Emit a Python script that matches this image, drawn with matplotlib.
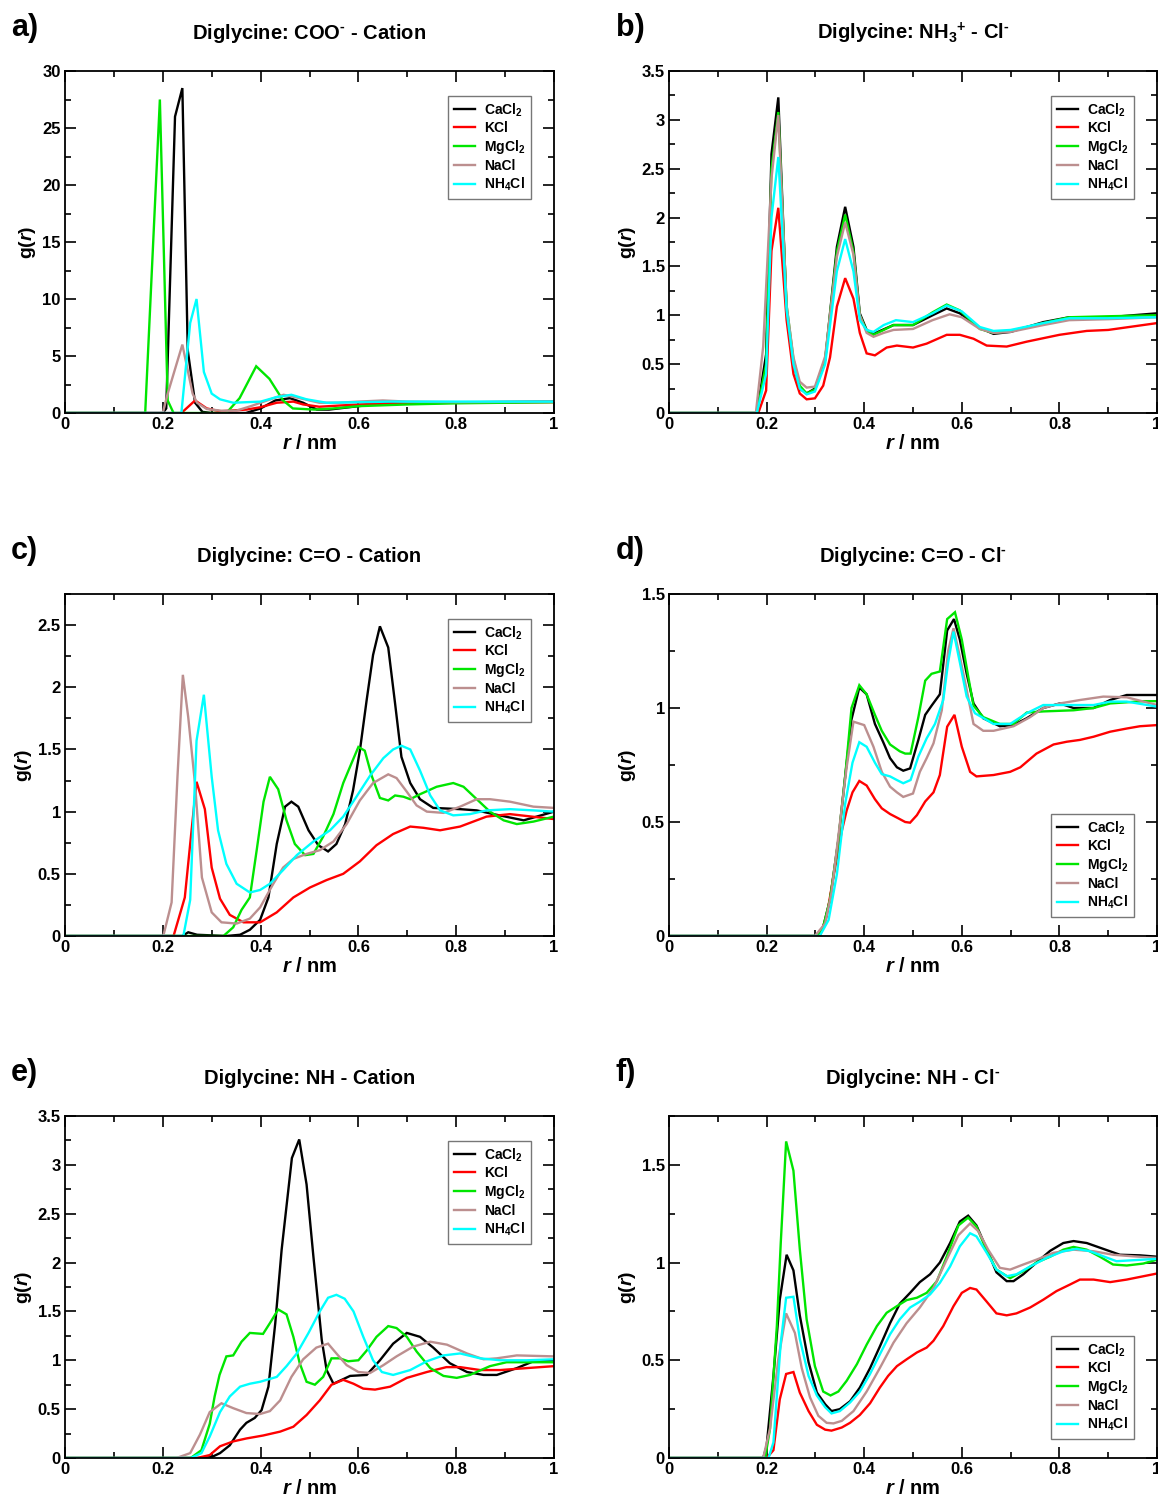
import matplotlib
matplotlib.use('Agg')
import matplotlib.pyplot as plt
from matplotlib.ticker import MultipleLocator, FuncFormatter

plt.rcParams['font.family'] = ['Liberation Sans', 'DejaVu Sans']
plt.rcParams['font.weight'] = 'bold'
plt.rcParams['mathtext.fontset'] = 'custom'
plt.rcParams['mathtext.rm'] = 'Liberation Sans:bold'
plt.rcParams['mathtext.bf'] = 'Liberation Sans:bold'
plt.rcParams['mathtext.it'] = 'Liberation Sans:bold:italic'
plt.rcParams['mathtext.default'] = 'bf'

SALTS = ['CaCl$_2$', 'KCl', 'MgCl$_2$', 'NaCl', 'NH$_4$Cl']
COLORS = ['black', '#ff0000', '#00e600', '#bc8f8f', '#00ffff']

# ---------------- panel a: COO- - cation ----------------
A_CACL2 = [(0, 0), (0.200, 0), (0.207, 0.4), (0.225, 26.0), (0.240, 28.5), (0.251, 5.5), (0.266, 0.9),
           (0.281, 0.1), (0.30, 0), (0.37, 0), (0.40, 0.4), (0.43, 1.1), (0.46, 1.3), (0.487, 0.9),
           (0.515, 0.3), (0.54, 0.3), (0.60, 0.6), (0.66, 0.9), (0.75, 0.9), (0.85, 0.95), (1.0, 1.0)]
A_KCL = [(0, 0), (0.238, 0), (0.266, 1.1), (0.29, 0.4), (0.317, 0.15), (0.371, 0.3), (0.399, 0.5),
         (0.433, 0.9), (0.467, 1.0), (0.487, 0.75), (0.52, 0.55), (0.60, 0.75), (0.67, 0.85),
         (0.80, 0.9), (1.0, 0.95)]
A_MGCL2 = [(0, 0), (0.164, 0), (0.194, 27.5), (0.21, 1.1), (0.222, 0), (0.33, 0), (0.357, 1.3),
           (0.391, 4.1), (0.418, 3.0), (0.446, 1.1), (0.466, 0.4), (0.51, 0.3), (0.55, 0.4),
           (0.60, 0.6), (0.70, 0.75), (0.80, 0.85), (0.90, 0.9), (1.0, 0.95)]
A_NACL = [(0, 0), (0.200, 0), (0.21, 1.7), (0.24, 6.0), (0.261, 1.7), (0.27, 0.9), (0.29, 0.35),
          (0.32, 0.2), (0.35, 0.2), (0.38, 0.6), (0.42, 1.2), (0.447, 1.6), (0.48, 1.3), (0.52, 0.9),
          (0.56, 0.9), (0.60, 1.0), (0.65, 1.1), (0.70, 1.0), (0.80, 0.95), (1.0, 1.0)]
A_NH4CL = [(0, 0), (0.238, 0), (0.256, 7.9), (0.269, 10.0), (0.284, 3.6), (0.30, 1.7), (0.317, 1.2),
           (0.344, 0.9), (0.40, 1.0), (0.433, 1.4), (0.463, 1.6), (0.494, 1.2), (0.535, 0.9),
           (0.60, 0.95), (0.67, 1.0), (1.0, 1.0)]

# ---------------- panel b: NH3+ - Cl- ----------------
B_CACL2 = [(0, 0), (0.18, 0), (0.199, 0.6), (0.21, 2.65), (0.224, 3.23), (0.241, 1.05), (0.255, 0.51),
           (0.268, 0.25), (0.282, 0.2), (0.299, 0.25), (0.32, 0.54), (0.344, 1.7), (0.361, 2.11),
           (0.378, 1.7), (0.391, 1.02), (0.405, 0.85), (0.419, 0.81), (0.46, 0.9), (0.50, 0.9),
           (0.54, 1.0), (0.569, 1.07), (0.596, 1.02), (0.637, 0.87), (0.665, 0.81), (0.70, 0.83),
           (0.767, 0.93), (0.82, 0.98), (0.90, 0.98), (1.0, 1.02)]
B_KCL = [(0, 0), (0.183, 0), (0.199, 0.23), (0.21, 1.66), (0.224, 2.1), (0.241, 0.95), (0.255, 0.4),
         (0.268, 0.2), (0.282, 0.14), (0.299, 0.15), (0.316, 0.28), (0.33, 0.57), (0.344, 1.09),
         (0.361, 1.38), (0.378, 1.17), (0.391, 0.82), (0.405, 0.61), (0.422, 0.59), (0.446, 0.67),
         (0.467, 0.69), (0.50, 0.67), (0.528, 0.71), (0.569, 0.8), (0.596, 0.8), (0.624, 0.76),
         (0.651, 0.69), (0.692, 0.68), (0.733, 0.73), (0.80, 0.8), (0.856, 0.84), (0.90, 0.85),
         (1.0, 0.92)]
B_MGCL2 = [(0, 0), (0.18, 0), (0.199, 0.5), (0.21, 2.5), (0.224, 3.08), (0.241, 1.1), (0.255, 0.55),
           (0.268, 0.28), (0.282, 0.2), (0.299, 0.24), (0.32, 0.55), (0.344, 1.65), (0.361, 2.03),
           (0.378, 1.65), (0.391, 1.0), (0.405, 0.84), (0.419, 0.8), (0.44, 0.85), (0.46, 0.9),
           (0.50, 0.9), (0.54, 1.03), (0.569, 1.11), (0.596, 1.05), (0.637, 0.86), (0.665, 0.82),
           (0.70, 0.84), (0.767, 0.92), (0.82, 0.98), (0.90, 0.99), (1.0, 1.0)]
B_NACL = [(0, 0), (0.178, 0), (0.193, 0.68), (0.21, 2.4), (0.224, 3.05), (0.241, 1.1), (0.255, 0.57),
          (0.268, 0.32), (0.282, 0.26), (0.299, 0.27), (0.32, 0.58), (0.344, 1.6), (0.361, 1.95),
          (0.378, 1.62), (0.391, 1.0), (0.405, 0.82), (0.419, 0.78), (0.44, 0.82), (0.46, 0.85),
          (0.50, 0.86), (0.54, 0.95), (0.575, 1.01), (0.60, 0.98), (0.637, 0.86), (0.665, 0.82),
          (0.70, 0.83), (0.767, 0.9), (0.82, 0.95), (0.90, 0.96), (1.0, 0.98)]
B_NH4CL = [(0, 0), (0.18, 0), (0.199, 0.4), (0.21, 2.0), (0.224, 2.62), (0.241, 1.05), (0.255, 0.5),
           (0.268, 0.25), (0.282, 0.19), (0.299, 0.22), (0.32, 0.5), (0.344, 1.45), (0.361, 1.78),
           (0.378, 1.45), (0.391, 0.95), (0.405, 0.85), (0.419, 0.83), (0.44, 0.9), (0.465, 0.95),
           (0.50, 0.93), (0.54, 1.02), (0.569, 1.1), (0.60, 1.04), (0.637, 0.88), (0.665, 0.84),
           (0.70, 0.85), (0.767, 0.92), (0.82, 0.97), (0.90, 0.97), (1.0, 0.98)]

# ---------------- panel c: C=O - cation ----------------
C_CACL2 = [(0, 0), (0.24, 0), (0.252, 0.03), (0.27, 0.01), (0.33, 0.0), (0.358, 0.01), (0.378, 0.05),
           (0.399, 0.13), (0.416, 0.31), (0.433, 0.74), (0.45, 1.04), (0.463, 1.08), (0.477, 1.04),
           (0.498, 0.85), (0.518, 0.73), (0.538, 0.68), (0.555, 0.74), (0.573, 0.9), (0.589, 1.17),
           (0.603, 1.49), (0.617, 1.9), (0.63, 2.26), (0.644, 2.49), (0.661, 2.32), (0.675, 1.87),
           (0.688, 1.44), (0.706, 1.23), (0.726, 1.1), (0.753, 1.03), (0.808, 1.02), (0.842, 1.01),
           (0.876, 0.98), (0.938, 0.93), (1.0, 1.0)]
C_KCL = [(0, 0), (0.222, 0), (0.245, 0.31), (0.256, 0.74), (0.269, 1.24), (0.286, 1.02), (0.30, 0.55),
         (0.317, 0.3), (0.337, 0.17), (0.365, 0.11), (0.399, 0.11), (0.433, 0.19), (0.467, 0.31),
         (0.501, 0.39), (0.535, 0.45), (0.569, 0.5), (0.603, 0.6), (0.637, 0.73), (0.671, 0.82),
         (0.706, 0.88), (0.733, 0.87), (0.767, 0.85), (0.808, 0.88), (0.862, 0.96), (0.91, 0.98),
         (1.0, 0.94)]
C_MGCL2 = [(0, 0), (0.324, 0), (0.344, 0.07), (0.361, 0.21), (0.378, 0.31), (0.392, 0.69), (0.406, 1.08),
           (0.419, 1.28), (0.436, 1.18), (0.453, 0.93), (0.47, 0.74), (0.491, 0.65), (0.508, 0.66),
           (0.528, 0.8), (0.549, 0.98), (0.569, 1.23), (0.586, 1.39), (0.60, 1.52), (0.613, 1.49),
           (0.627, 1.29), (0.644, 1.11), (0.661, 1.09), (0.675, 1.13), (0.692, 1.12), (0.706, 1.1),
           (0.726, 1.14), (0.76, 1.2), (0.794, 1.23), (0.815, 1.2), (0.842, 1.1), (0.869, 1.0),
           (0.897, 0.93), (0.924, 0.9), (0.958, 0.92), (1.0, 0.96)]
C_NACL = [(0, 0), (0.201, 0), (0.218, 0.27), (0.23, 1.28), (0.241, 2.1), (0.252, 1.76), (0.266, 1.22),
          (0.28, 0.47), (0.30, 0.19), (0.32, 0.11), (0.351, 0.1), (0.378, 0.14), (0.399, 0.23),
          (0.426, 0.42), (0.446, 0.55), (0.467, 0.62), (0.494, 0.66), (0.521, 0.69), (0.549, 0.76),
          (0.576, 0.9), (0.603, 1.09), (0.63, 1.23), (0.661, 1.3), (0.678, 1.27), (0.699, 1.16),
          (0.719, 1.05), (0.74, 1.0), (0.774, 0.99), (0.808, 1.04), (0.842, 1.1), (0.869, 1.1),
          (0.91, 1.08), (0.958, 1.04), (1.0, 1.03)]
C_NH4CL = [(0, 0), (0.242, 0), (0.256, 0.29), (0.269, 1.57), (0.284, 1.94), (0.30, 1.28), (0.313, 0.85),
           (0.33, 0.58), (0.351, 0.42), (0.378, 0.35), (0.399, 0.37), (0.419, 0.42), (0.446, 0.53),
           (0.474, 0.65), (0.508, 0.76), (0.542, 0.85), (0.569, 0.96), (0.596, 1.12), (0.624, 1.29),
           (0.651, 1.43), (0.671, 1.5), (0.688, 1.53), (0.706, 1.5), (0.726, 1.33), (0.747, 1.13),
           (0.767, 1.01), (0.794, 0.97), (0.828, 0.98), (0.862, 1.01), (0.91, 1.02), (0.958, 1.01),
           (1.0, 1.0)]

# ---------------- panel d: C=O - Cl- ----------------
D_CACL2 = [(0, 0), (0.303, 0), (0.316, 0.04), (0.33, 0.16), (0.347, 0.42), (0.361, 0.7), (0.374, 0.95),
           (0.39, 1.09), (0.405, 1.06), (0.422, 0.93), (0.439, 0.85), (0.453, 0.78), (0.467, 0.74),
           (0.48, 0.725), (0.494, 0.735), (0.511, 0.86), (0.525, 0.97), (0.538, 1.01), (0.555, 1.06),
           (0.57, 1.34), (0.584, 1.39), (0.596, 1.3), (0.61, 1.15), (0.624, 1.02), (0.644, 0.955),
           (0.678, 0.92), (0.706, 0.925), (0.733, 0.955), (0.767, 1.0), (0.801, 1.02), (0.829, 1.0),
           (0.87, 1.0), (0.904, 1.035), (0.938, 1.057), (1.0, 1.057)]
D_KCL = [(0, 0), (0.309, 0), (0.323, 0.085), (0.337, 0.26), (0.354, 0.46), (0.364, 0.55), (0.376, 0.63),
         (0.39, 0.68), (0.405, 0.66), (0.422, 0.6), (0.436, 0.56), (0.453, 0.535), (0.47, 0.516),
         (0.484, 0.5), (0.494, 0.497), (0.508, 0.53), (0.525, 0.59), (0.542, 0.63), (0.555, 0.706),
         (0.57, 0.918), (0.585, 0.97), (0.60, 0.83), (0.617, 0.72), (0.63, 0.7), (0.665, 0.706),
         (0.699, 0.72), (0.72, 0.74), (0.753, 0.8), (0.788, 0.84), (0.815, 0.852), (0.842, 0.86),
         (0.87, 0.874), (0.904, 0.896), (0.938, 0.91), (0.965, 0.92), (1.0, 0.925)]
D_MGCL2 = [(0, 0), (0.303, 0), (0.316, 0.04), (0.33, 0.16), (0.347, 0.42), (0.361, 0.7), (0.374, 1.0),
           (0.39, 1.1), (0.405, 1.06), (0.422, 0.97), (0.436, 0.9), (0.453, 0.84), (0.473, 0.81),
           (0.484, 0.8), (0.495, 0.8), (0.511, 0.96), (0.525, 1.12), (0.538, 1.15), (0.555, 1.16),
           (0.57, 1.39), (0.586, 1.42), (0.60, 1.3), (0.613, 1.14), (0.624, 1.01), (0.644, 0.96),
           (0.678, 0.93), (0.706, 0.93), (0.733, 0.98), (0.767, 0.985), (0.829, 0.99), (0.87, 1.0),
           (0.904, 1.02), (0.972, 1.03), (1.0, 1.03)]
D_NACL = [(0, 0), (0.299, 0), (0.32, 0.055), (0.333, 0.19), (0.35, 0.49), (0.364, 0.74), (0.378, 0.94),
          (0.40, 0.925), (0.419, 0.83), (0.436, 0.72), (0.453, 0.655), (0.467, 0.63), (0.48, 0.61),
          (0.50, 0.625), (0.514, 0.72), (0.528, 0.78), (0.542, 0.845), (0.559, 0.99), (0.572, 1.25),
          (0.583, 1.35), (0.596, 1.225), (0.61, 1.08), (0.624, 0.93), (0.644, 0.9), (0.665, 0.9),
          (0.706, 0.92), (0.74, 0.96), (0.767, 1.0), (0.801, 1.02), (0.842, 1.035), (0.89, 1.05),
          (0.938, 1.047), (1.0, 1.013)]
D_NH4CL = [(0, 0), (0.309, 0), (0.327, 0.07), (0.344, 0.27), (0.361, 0.58), (0.376, 0.76), (0.39, 0.85),
           (0.405, 0.83), (0.422, 0.76), (0.436, 0.71), (0.453, 0.7), (0.467, 0.684), (0.48, 0.67),
           (0.495, 0.684), (0.511, 0.787), (0.528, 0.867), (0.545, 0.93), (0.562, 1.035), (0.572, 1.2),
           (0.583, 1.335), (0.596, 1.2), (0.61, 1.05), (0.627, 0.977), (0.665, 0.93), (0.699, 0.93),
           (0.733, 0.977), (0.767, 1.013), (0.801, 1.013), (0.87, 1.013), (0.904, 1.028),
           (0.938, 1.028), (1.0, 1.006)]

# ---------------- panel e: NH - cation ----------------
E_CACL2 = [(0, 0), (0.283, 0), (0.30, 0.01), (0.317, 0.05), (0.337, 0.13), (0.358, 0.29), (0.371, 0.36),
           (0.388, 0.41), (0.402, 0.49), (0.416, 0.73), (0.43, 1.38), (0.443, 2.13), (0.464, 3.07),
           (0.479, 3.26), (0.494, 2.8), (0.508, 2.06), (0.525, 1.21), (0.535, 0.9), (0.549, 0.76),
           (0.566, 0.8), (0.583, 0.84), (0.617, 0.85), (0.644, 1.0), (0.671, 1.17), (0.699, 1.28),
           (0.726, 1.24), (0.753, 1.13), (0.787, 0.97), (0.822, 0.88), (0.856, 0.85), (0.883, 0.85),
           (0.924, 0.92), (0.958, 0.99), (1.0, 1.0)]
E_KCL = [(0, 0), (0.27, 0), (0.296, 0.03), (0.317, 0.12), (0.344, 0.17), (0.371, 0.2), (0.405, 0.23),
         (0.44, 0.27), (0.467, 0.32), (0.494, 0.44), (0.521, 0.59), (0.545, 0.75), (0.569, 0.8),
         (0.59, 0.76), (0.61, 0.71), (0.634, 0.7), (0.665, 0.73), (0.699, 0.82), (0.74, 0.88),
         (0.78, 0.93), (0.808, 0.93), (0.849, 0.9), (0.89, 0.9), (0.944, 0.92), (1.0, 0.94)]
E_MGCL2 = [(0, 0), (0.257, 0), (0.279, 0.08), (0.296, 0.35), (0.306, 0.63), (0.316, 0.85), (0.33, 1.04),
           (0.344, 1.05), (0.361, 1.19), (0.378, 1.28), (0.405, 1.27), (0.419, 1.38), (0.436, 1.52),
           (0.453, 1.47), (0.467, 1.24), (0.48, 0.97), (0.494, 0.78), (0.511, 0.75), (0.528, 0.83),
           (0.545, 1.02), (0.562, 1.02), (0.579, 0.99), (0.60, 1.0), (0.617, 1.1), (0.637, 1.24),
           (0.661, 1.35), (0.678, 1.33), (0.699, 1.24), (0.719, 1.09), (0.747, 0.92), (0.774, 0.84),
           (0.801, 0.82), (0.828, 0.85), (0.869, 0.94), (0.903, 0.98), (0.944, 0.98), (1.0, 0.98)]
E_NACL = [(0, 0), (0.228, 0), (0.256, 0.05), (0.276, 0.24), (0.296, 0.47), (0.32, 0.56), (0.344, 0.51),
          (0.371, 0.46), (0.399, 0.45), (0.419, 0.48), (0.44, 0.59), (0.463, 0.83), (0.487, 1.01),
          (0.514, 1.13), (0.538, 1.17), (0.555, 1.07), (0.576, 0.95), (0.60, 0.88), (0.624, 0.87),
          (0.651, 0.95), (0.678, 1.04), (0.712, 1.14), (0.747, 1.19), (0.781, 1.16), (0.822, 1.07),
          (0.856, 1.01), (0.883, 1.02), (0.924, 1.05), (1.0, 1.04)]
E_NH4CL = [(0, 0), (0.257, 0), (0.279, 0.05), (0.296, 0.22), (0.317, 0.47), (0.337, 0.63), (0.358, 0.73),
           (0.378, 0.76), (0.399, 0.78), (0.433, 0.83), (0.453, 0.94), (0.474, 1.07), (0.498, 1.28),
           (0.521, 1.5), (0.538, 1.64), (0.555, 1.67), (0.572, 1.63), (0.59, 1.5), (0.61, 1.24),
           (0.63, 1.0), (0.648, 0.88), (0.671, 0.85), (0.706, 0.9), (0.74, 0.99), (0.774, 1.05),
           (0.808, 1.07), (0.849, 1.02), (0.89, 1.0), (0.944, 1.0), (1.0, 1.01)]

# ---------------- panel f: NH - Cl- ----------------
F_CACL2 = [(0, 0), (0.193, 0), (0.20, 0.06), (0.214, 0.42), (0.227, 0.81), (0.241, 1.04), (0.255, 0.96),
           (0.268, 0.73), (0.286, 0.49), (0.303, 0.335), (0.32, 0.275), (0.333, 0.24), (0.35, 0.25),
           (0.371, 0.29), (0.391, 0.36), (0.412, 0.46), (0.432, 0.57), (0.453, 0.69), (0.473, 0.79),
           (0.494, 0.845), (0.514, 0.9), (0.535, 0.94), (0.555, 1.0), (0.576, 1.1), (0.596, 1.21),
           (0.613, 1.24), (0.63, 1.19), (0.651, 1.07), (0.671, 0.95), (0.692, 0.905), (0.706, 0.905),
           (0.726, 0.94), (0.753, 1.0), (0.781, 1.06), (0.808, 1.1), (0.829, 1.11), (0.856, 1.1),
           (0.89, 1.07), (0.924, 1.04), (0.965, 1.037), (1.0, 1.03)]
F_KCL = [(0, 0), (0.20, 0), (0.214, 0.04), (0.227, 0.3), (0.24, 0.43), (0.255, 0.44), (0.268, 0.335),
         (0.286, 0.24), (0.303, 0.17), (0.32, 0.145), (0.333, 0.14), (0.354, 0.156), (0.371, 0.18),
         (0.391, 0.22), (0.412, 0.28), (0.432, 0.36), (0.449, 0.42), (0.467, 0.47), (0.487, 0.505),
         (0.508, 0.54), (0.528, 0.565), (0.542, 0.6), (0.562, 0.675), (0.583, 0.777), (0.60, 0.845),
         (0.617, 0.87), (0.63, 0.862), (0.651, 0.8), (0.671, 0.74), (0.692, 0.73), (0.712, 0.74),
         (0.74, 0.77), (0.767, 0.81), (0.794, 0.854), (0.822, 0.888), (0.842, 0.913), (0.87, 0.913),
         (0.904, 0.9), (0.938, 0.913), (0.972, 0.93), (1.0, 0.944)]
F_MGCL2 = [(0, 0), (0.197, 0), (0.207, 0.15), (0.221, 0.675), (0.229, 1.1), (0.24, 1.62), (0.255, 1.47),
           (0.268, 1.07), (0.282, 0.71), (0.299, 0.47), (0.316, 0.34), (0.331, 0.32), (0.347, 0.34),
           (0.364, 0.395), (0.385, 0.48), (0.405, 0.58), (0.426, 0.675), (0.446, 0.743), (0.467, 0.777),
           (0.487, 0.808), (0.508, 0.82), (0.528, 0.845), (0.549, 0.905), (0.569, 1.03), (0.593, 1.19),
           (0.613, 1.23), (0.63, 1.185), (0.651, 1.06), (0.671, 0.964), (0.699, 0.92), (0.726, 0.956),
           (0.753, 1.0), (0.781, 1.03), (0.808, 1.066), (0.829, 1.08), (0.856, 1.066), (0.883, 1.03),
           (0.91, 0.99), (0.938, 0.985), (0.972, 0.995), (1.0, 1.015)]
F_NACL = [(0, 0), (0.193, 0), (0.207, 0.15), (0.224, 0.505), (0.24, 0.74), (0.258, 0.64), (0.272, 0.46),
          (0.289, 0.31), (0.306, 0.216), (0.323, 0.18), (0.337, 0.177), (0.354, 0.19), (0.378, 0.24),
          (0.405, 0.34), (0.432, 0.46), (0.46, 0.59), (0.487, 0.69), (0.514, 0.77), (0.542, 0.87),
          (0.569, 1.015), (0.593, 1.14), (0.617, 1.2), (0.634, 1.16), (0.654, 1.066), (0.678, 0.973),
          (0.699, 0.964), (0.726, 0.99), (0.753, 1.015), (0.788, 1.05), (0.829, 1.066), (0.87, 1.058),
          (0.91, 1.04), (0.951, 1.032), (1.0, 1.024)]
F_NH4CL = [(0, 0), (0.204, 0), (0.214, 0.08), (0.229, 0.59), (0.24, 0.82), (0.255, 0.825), (0.268, 0.61),
           (0.286, 0.42), (0.303, 0.32), (0.32, 0.26), (0.333, 0.228), (0.35, 0.24), (0.371, 0.284),
           (0.391, 0.34), (0.412, 0.43), (0.432, 0.53), (0.453, 0.633), (0.473, 0.71), (0.494, 0.77),
           (0.514, 0.8), (0.535, 0.837), (0.555, 0.896), (0.576, 0.98), (0.596, 1.083), (0.617, 1.15),
           (0.63, 1.134), (0.651, 1.05), (0.671, 0.964), (0.692, 0.93), (0.712, 0.94), (0.74, 0.98),
           (0.774, 1.024), (0.808, 1.058), (0.835, 1.07), (0.863, 1.058), (0.89, 1.032), (0.917, 1.007),
           (0.951, 1.012), (1.0, 1.019)]

PANEL_LABELS = ['a)', 'b)', 'c)', 'd)', 'e)', 'f)']
TITLES = ['Diglycine: COO$^{\u2010}$ - Cation', 'Diglycine: NH$_3$$^{+}$ - Cl$^{\u2010}$',
          'Diglycine: C=O - Cation', 'Diglycine: C=O - Cl$^{\u2010}$',
          'Diglycine: NH - Cation', 'Diglycine: NH - Cl$^{\u2010}$']
YMAX = [30, 3.5, 2.75, 1.5, 3.5, 1.75]
YMAJOR = [5, 0.5, 0.5, 0.5, 0.5, 0.5]
PANEL_DATA = [
    [A_CACL2, A_KCL, A_MGCL2, A_NACL, A_NH4CL],
    [B_CACL2, B_KCL, B_MGCL2, B_NACL, B_NH4CL],
    [C_CACL2, C_KCL, C_MGCL2, C_NACL, C_NH4CL],
    [D_CACL2, D_KCL, D_MGCL2, D_NACL, D_NH4CL],
    [E_CACL2, E_KCL, E_MGCL2, E_NACL, E_NH4CL],
    [F_CACL2, F_KCL, F_MGCL2, F_NACL, F_NH4CL],
]
LEGEND_LOWER = [False, False, False, True, False, True]

W, H = 1158, 1500
fig = plt.figure(figsize=(W / 100, H / 100), dpi=100)

col_left = [65, 669]
col_right = [554, 1157]
row_top = [71, 594, 1116]
row_bot = [413, 936, 1458]
label_xy = [(11, 28), (616, 28), (11, 551), (616, 551), (11, 1073), (616, 1073)]

fmt = FuncFormatter(lambda v, p: '%g' % v)

for i in range(6):
    r, c = divmod(i, 2)
    l, rr = col_left[c], col_right[c]
    t, b = row_top[r], row_bot[r]
    ax = fig.add_axes([l / W, 1 - b / H, (rr - l) / W, (b - t) / H])
    for series, color, name in zip(PANEL_DATA[i], COLORS, SALTS):
        xs = [p[0] for p in series]
        ys = [p[1] for p in series]
        ax.plot(xs, ys, color=color, lw=1.7, label=name, solid_joinstyle='miter')
    ax.set_xlim(0, 1)
    ax.set_ylim(0, YMAX[i])
    ax.xaxis.set_major_locator(MultipleLocator(0.2))
    ax.xaxis.set_minor_locator(MultipleLocator(0.1))
    ax.yaxis.set_major_locator(MultipleLocator(YMAJOR[i]))
    ax.yaxis.set_minor_locator(MultipleLocator(YMAJOR[i] / 2))
    ax.xaxis.set_major_formatter(fmt)
    ax.yaxis.set_major_formatter(fmt)
    ax.tick_params(which='both', direction='in', top=True, right=True, width=1.2,
                   labelsize=12, pad=3)
    ax.tick_params(which='major', length=8)
    ax.tick_params(which='minor', length=4)
    for sp in ax.spines.values():
        sp.set_linewidth(1.3)
    for lab in ax.get_xticklabels() + ax.get_yticklabels():
        lab.set_fontweight('bold')
    ax.set_xlabel(r'$\mathit{r}$ / nm', fontsize=14.5, fontweight='bold', labelpad=1)
    ax.set_ylabel(r'g($\mathit{r}$)', fontsize=14, fontweight='bold', labelpad=3)
    ax.set_title(TITLES[i], fontsize=14.5, fontweight='bold', pad=23)
    if LEGEND_LOWER[i]:
        anchor = (0.953, 0.358)
    else:
        anchor = (0.953, 0.928)
    leg = ax.legend(loc='upper right', bbox_to_anchor=anchor, frameon=True, fancybox=False,
                    prop={'size': 10, 'weight': 'bold'}, handlelength=1.5, handletextpad=0.7,
                    labelspacing=0.2, borderpad=0.4, borderaxespad=0.0)
    leg.get_frame().set_edgecolor('#555555')
    leg.get_frame().set_linewidth(1.0)
    fig.text(label_xy[i][0] / W, 1 - label_xy[i][1] / H, PANEL_LABELS[i], fontsize=22,
             fontweight='bold', ha='left', va='center')

fig.savefig('out.png', dpi=100, facecolor='white')
